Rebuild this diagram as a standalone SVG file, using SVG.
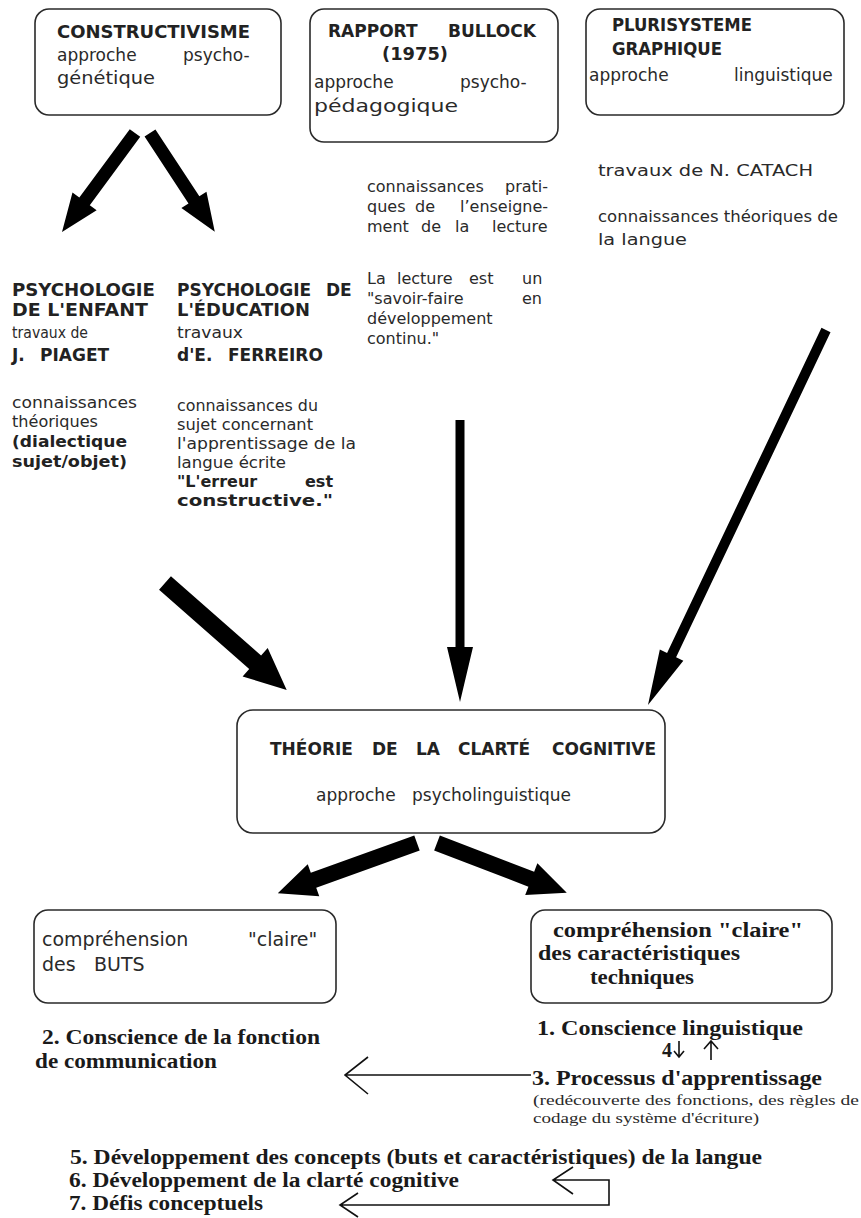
<svg xmlns="http://www.w3.org/2000/svg" width="861" height="1218" viewBox="0 0 861 1218">
<defs>
<style>
.box{fill:#fff;stroke:#2a2a2a;stroke-width:1.6}
.s{font-family:"DejaVu Sans","Liberation Sans",sans-serif;fill:#2a2a2a;font-size:15px}
.s16{font-family:"DejaVu Sans","Liberation Sans",sans-serif;fill:#2a2a2a;font-size:16px}
.sb{font-family:"DejaVu Sans","Liberation Sans",sans-serif;fill:#222;font-size:17px;font-weight:bold}
.sb16{font-family:"DejaVu Sans","Liberation Sans",sans-serif;fill:#222;font-size:16px;font-weight:bold}
.sm{font-family:"DejaVu Sans","Liberation Sans",sans-serif;fill:#2a2a2a;font-size:17px}
.sm19{font-family:"DejaVu Sans","Liberation Sans",sans-serif;fill:#2a2a2a;font-size:19px}
.t{font-family:"Liberation Serif",serif;fill:#1a1a1a;font-size:20px;font-weight:bold}
.tr{font-family:"Liberation Serif",serif;fill:#2a2a2a;font-size:15px}
.big{fill:#000}
.thin{fill:none;stroke:#111;stroke-width:1.6}
</style>
</defs>
<rect width="861" height="1218" fill="#fff"/>

<g id="constructivisme">
<rect class="box" x="35" y="9" width="246" height="106" rx="14"/>
<text class="sb" x="57" y="38" textLength="193" lengthAdjust="spacingAndGlyphs">CONSTRUCTIVISME</text>
<text class="sm" y="61"><tspan x="57">approche</tspan> <tspan x="183">psycho-</tspan></text>
<text class="sm" x="57" y="84" textLength="98" lengthAdjust="spacingAndGlyphs">génétique</text>
</g>

<g id="bullock">
<rect class="box" x="310" y="9" width="248" height="133" rx="14"/>
<text class="sb" y="37"><tspan x="328">RAPPORT</tspan> <tspan x="448">BULLOCK</tspan></text>
<text class="sb" x="382" y="60" textLength="66" lengthAdjust="spacingAndGlyphs">(1975)</text>
<text class="sm" y="88"><tspan x="314">approche</tspan> <tspan x="460">psycho-</tspan></text>
<text class="sm" x="314" y="112" textLength="144" lengthAdjust="spacingAndGlyphs">pédagogique</text>
</g>

<g id="plurisysteme">
<rect class="box" x="586" y="9" width="258" height="106" rx="14"/>
<text class="sb" x="612" y="31" textLength="140" lengthAdjust="spacingAndGlyphs">PLURISYSTEME</text>
<text class="sb" x="612" y="55" textLength="110" lengthAdjust="spacingAndGlyphs">GRAPHIQUE</text>
<text class="sm" y="81"><tspan x="589">approche</tspan> <tspan x="734">linguistique</tspan></text>
</g>

<g id="catach">
<text class="s" x="598" y="176" textLength="215" lengthAdjust="spacingAndGlyphs">travaux de N. CATACH</text>
<text class="s" x="598" y="222" textLength="240" lengthAdjust="spacingAndGlyphs">connaissances théoriques de</text>
<text class="s" x="598" y="245" textLength="89" lengthAdjust="spacingAndGlyphs">la langue</text>
</g>

<g id="bullock-text">
<text class="s16" y="192"><tspan x="367">connaissances</tspan> <tspan x="505">prati-</tspan></text>
<text class="s16" y="212"><tspan x="367">ques</tspan> <tspan x="415">de</tspan> <tspan x="460">l’enseigne-</tspan></text>
<text class="s16" y="232"><tspan x="367">ment</tspan> <tspan x="421">de</tspan> <tspan x="455">la</tspan> <tspan x="492">lecture</tspan></text>
<text class="s16" y="284"><tspan x="367">La</tspan> <tspan x="397">lecture</tspan> <tspan x="469">est</tspan> <tspan x="522">un</tspan></text>
<text class="s16" y="304"><tspan x="367">"savoir-faire</tspan> <tspan x="522">en</tspan></text>
<text class="s16" x="367" y="324">développement</text>
<text class="s16" x="367" y="344">continu."</text>
</g>

<g id="psy-enfant">
<text class="sb" x="12" y="296" textLength="143" lengthAdjust="spacingAndGlyphs">PSYCHOLOGIE</text>
<text class="sb" x="12" y="316" textLength="136" lengthAdjust="spacingAndGlyphs">DE L'ENFANT</text>
<text class="s" x="12" y="338" textLength="76" lengthAdjust="spacingAndGlyphs">travaux de</text>
<text class="sb" y="361"><tspan x="12">J.</tspan> <tspan x="40">PIAGET</tspan></text>
<text class="s" x="12" y="408" textLength="125" lengthAdjust="spacingAndGlyphs">connaissances</text>
<text class="s" x="12" y="427" textLength="86" lengthAdjust="spacingAndGlyphs">théoriques</text>
<text class="sb16" x="12" y="447" textLength="115" lengthAdjust="spacingAndGlyphs">(dialectique</text>
<text class="sb16" x="12" y="467" textLength="115" lengthAdjust="spacingAndGlyphs">sujet/objet)</text>
</g>

<g id="psy-education">
<text class="sb" y="296"><tspan x="177">PSYCHOLOGIE</tspan> <tspan x="326">DE</tspan></text>
<text class="sb" x="177" y="316" textLength="133" lengthAdjust="spacingAndGlyphs">L'ÉDUCATION</text>
<text class="s" x="177" y="338" textLength="66" lengthAdjust="spacingAndGlyphs">travaux</text>
<text class="sb" y="361"><tspan x="177">d'E.</tspan> <tspan x="228">FERREIRO</tspan></text>
<text class="s" x="177" y="411" textLength="141" lengthAdjust="spacingAndGlyphs">connaissances du</text>
<text class="s" x="177" y="430" textLength="136" lengthAdjust="spacingAndGlyphs">sujet concernant</text>
<text class="s" x="177" y="449" textLength="179" lengthAdjust="spacingAndGlyphs">l'apprentissage de la</text>
<text class="s" x="177" y="468" textLength="109" lengthAdjust="spacingAndGlyphs">langue écrite</text>
<text class="sb16" y="487"><tspan x="177">"L'erreur</tspan> <tspan x="305">est</tspan></text>
<text class="sb16" x="177" y="506" textLength="156" lengthAdjust="spacingAndGlyphs">constructive."</text>
</g>

<g id="clarte">
<rect class="box" x="237" y="710" width="428" height="123" rx="16"/>
<text class="sb" y="755"><tspan x="270">THÉORIE</tspan> <tspan x="372">DE</tspan> <tspan x="416">LA</tspan> <tspan x="458">CLARTÉ</tspan> <tspan x="552">COGNITIVE</tspan></text>
<text class="sm" y="801"><tspan x="316">approche</tspan> <tspan x="412">psycholinguistique</tspan></text>
</g>

<g id="buts">
<rect class="box" x="34" y="910" width="302" height="93" rx="14"/>
<text class="sm19" y="946"><tspan x="42">compréhension</tspan> <tspan x="248">"claire"</tspan></text>
<text class="sm19" y="971"><tspan x="42">des</tspan> <tspan x="94">BUTS</tspan></text>
</g>

<g id="techniques">
<rect class="box" x="531" y="910" width="301" height="93" rx="14"/>
<text class="t" x="553" y="937" textLength="250" lengthAdjust="spacingAndGlyphs">compréhension "claire"</text>
<text class="t" x="538" y="960" textLength="202" lengthAdjust="spacingAndGlyphs">des caractéristiques</text>
<text class="t" x="590" y="984" textLength="104" lengthAdjust="spacingAndGlyphs">techniques</text>
</g>

<g id="etapes">
<text class="t" x="42" y="1044" textLength="278" lengthAdjust="spacingAndGlyphs">2. Conscience de la fonction</text>
<text class="t" x="35" y="1068" textLength="182" lengthAdjust="spacingAndGlyphs">de communication</text>
<text class="t" x="537" y="1035" textLength="266" lengthAdjust="spacingAndGlyphs">1. Conscience linguistique</text>
<text class="t" x="662" y="1057">4</text>
<text class="t" x="532" y="1085" textLength="290" lengthAdjust="spacingAndGlyphs">3. Processus d'apprentissage</text>
<text class="tr" x="533" y="1105" textLength="326" lengthAdjust="spacingAndGlyphs">(redécouverte des fonctions, des règles de</text>
<text class="tr" x="533" y="1123" textLength="226" lengthAdjust="spacingAndGlyphs">codage du système d'écriture)</text>
<text class="t" x="70" y="1164" textLength="692" lengthAdjust="spacingAndGlyphs">5. Développement des concepts (buts et caractéristiques) de la langue</text>
<text class="t" x="69" y="1187" textLength="390" lengthAdjust="spacingAndGlyphs">6. Développement de la clarté cognitive</text>
<text class="t" x="69" y="1210" textLength="194" lengthAdjust="spacingAndGlyphs">7. Défis conceptuels</text>
</g>

<g id="connectors">
<polygon class="big" points="0,-6.5 85,-6.5 85,-15 123,0 85,15 85,6.5 0,6.5" transform="translate(135,133) rotate(126.4)"/>
<polygon class="big" points="0,-6.5 80,-6.5 80,-15 118,0 80,15 80,6.5 0,6.5" transform="translate(150,133) rotate(56.7)"/>
<polygon class="big" points="0,-9 120,-9 120,-19 162,0 120,19 120,9 0,9" transform="translate(165,583) rotate(41.3)"/>
<polygon class="big" points="0,-4.5 227,-4.5 227,-13 282,0 227,13 227,4.5 0,4.5" transform="translate(460,420) rotate(90)"/>
<polygon class="big" points="0,-5 360,-5 360,-13 415,0 360,13 360,5 0,5" transform="translate(826,330) rotate(115.4)"/>
<polygon class="big" points="0,-8 110,-8 110,-17 148,0 110,17 110,8 0,8" transform="translate(417,843) rotate(160.2)"/>
<polygon class="big" points="0,-8 101,-8 101,-17 139,0 101,17 101,8 0,8" transform="translate(437,843) rotate(21)"/>
<path class="thin" d="M679,1041 V1057 M674,1051 L679,1057 L684,1051"/>
<path class="thin" stroke-width="1.2" d="M711,1060 V1042 M704,1049 L711,1041 L718,1049"/>
<path class="thin" d="M531,1075 H345 M368,1057 L345,1075 L368,1094"/>
<path class="thin" d="M553,1180 H609 V1205 H340 M573,1167 L553,1180 L573,1194 M358,1193 L340,1205 L358,1217"/>
</g>
</svg>
